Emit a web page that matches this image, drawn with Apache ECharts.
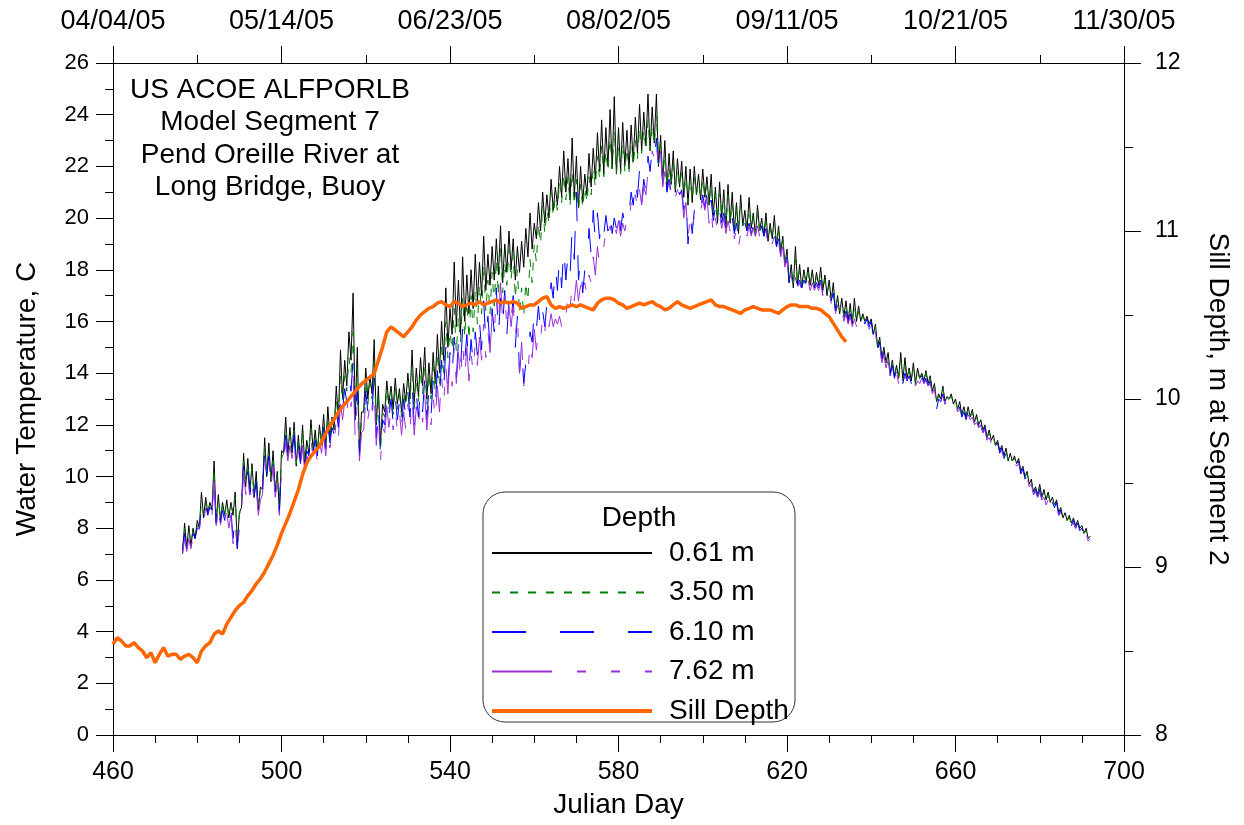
<!DOCTYPE html>
<html>
<head>
<meta charset="utf-8">
<script src="https://cdn.jsdelivr.net/npm/echarts@6/dist/echarts.min.js"></script>
<style>
  html, body { margin: 0; padding: 0; background: #fff; }
  #chart { width: 1244px; height: 825px; }
</style>
</head>
<body>
<div id="chart"></div>
<script>
// 轴刻度
const majorDays = [460, 500, 540, 580, 620, 660, 700];
const minorDays = [470, 480, 490, 510, 520, 530, 550, 560, 570, 590, 600, 610, 630, 640, 650, 670, 680, 690];
const topMinorDays = [480, 520, 560, 600, 640, 680];
const dateLabels = ['04/04/05', '05/14/05', '06/23/05', '08/02/05', '09/11/05', '10/21/05', '11/30/05'];

// 水温 (每天: 低, 高), 从 476.5 天开始, 半天一个点
const tempStart = 476.5;
const tempStep = 0.5;

const t061 = [
    7.0,8.2, 7.2,8.1, 7.3,8.0, 7.6,8.3, 8.0,9.4, 8.4,9.2, 8.6,9.0, 8.7,10.6, 8.2,9.3, 8.3,9.0,
    8.5,9.1, 8.4,9.0, 8.5,9.4, 7.3,8.6, 8.8,10.9, 9.6,10.7, 9.4,10.5, 9.2,10.2, 8.7,9.6, 9.5,11.5,
    10.0,11.3, 9.8,11.0, 9.4,10.2, 8.6,11.0, 10.9,12.3, 10.8,11.9, 10.9,12.1, 10.4,11.6, 10.6,12.0, 10.5,11.4,
    10.9,12.2, 11.0,11.8, 10.9,12.0, 11.3,12.4, 11.1,12.7, 11.5,12.3, 11.8,13.5, 12.2,14.9, 13.0,14.5, 13.5,15.6,
    14.5,17.1, 12.3,15.0, 10.9,12.5, 12.5,14.2, 13.0,13.9, 13.2,15.3, 12.0,13.5, 11.2,12.8, 12.5,13.7, 12.8,13.5,
    12.6,13.8, 12.8,13.4, 12.5,13.6, 12.9,14.0, 13.0,14.9, 12.8,14.2, 13.1,14.6, 13.5,15.0, 13.0,14.4, 13.2,14.8,
    13.6,15.5, 14.0,16.0, 14.5,17.3, 15.0,16.5, 15.5,18.3, 15.8,17.6, 15.5,18.5, 16.0,17.8, 16.3,18.0, 16.5,18.6,
    16.8,18.3, 17.0,19.3, 17.2,18.6, 17.4,18.9, 17.6,19.2, 17.8,19.7, 17.5,19.0, 17.9,19.5, 18.0,19.2, 17.6,18.9,
    17.9,19.1, 18.1,19.6, 18.5,20.2, 18.8,19.8, 19.2,20.6, 19.5,21.0, 19.8,20.9, 20.0,21.5, 20.3,21.2, 20.5,22.0,
    20.8,22.6, 21.0,22.3, 20.7,23.1, 20.8,22.4, 20.4,22.0, 20.6,21.7, 20.9,22.5, 21.2,22.7, 21.5,23.3, 21.8,23.8,
    21.7,23.5, 22.0,24.2, 21.9,24.7, 21.7,23.5, 21.8,23.7, 22.0,23.4, 21.9,23.6, 22.2,23.9, 22.5,24.4, 22.6,24.1,
    22.8,24.8, 22.6,24.3, 22.9,24.8, 22.0,23.2, 21.4,23.0, 21.1,22.5, 21.3,22.6, 21.0,22.3, 21.2,22.2, 20.8,22.0,
    20.5,21.9, 20.6,22.0, 20.9,21.7, 20.7,21.9, 20.8,21.6, 20.5,21.7, 20.1,21.2, 19.8,21.4, 20.0,21.1, 19.6,21.3,
    19.8,21.0, 19.5,20.6, 19.4,20.9, 19.7,20.3, 19.5,20.8, 19.6,20.2, 19.3,20.5, 19.5,20.0, 19.3,20.2, 19.1,19.8,
    19.2,20.1, 18.9,19.7, 18.7,19.3, 18.2,18.8, 17.5,18.2, 17.3,18.9, 17.4,18.2, 17.3,18.0, 17.5,18.1, 17.4,18.0,
    17.3,17.9, 17.4,18.1, 17.2,17.8, 17.0,17.6, 16.8,17.5, 16.4,17.0, 16.3,16.9, 16.2,16.8, 16.0,16.7, 15.9,16.9,
    16.0,16.6, 16.0,16.3, 16.0,16.2, 15.9,16.1, 15.5,15.9, 15.0,15.4, 14.6,15.0, 14.4,14.8, 14.0,14.5, 13.9,14.3,
    13.8,14.8, 13.7,14.6, 13.8,14.2, 13.7,14.4, 13.6,14.2, 13.8,14.0, 13.7,14.1, 13.6,13.9, 13.3,13.6, 12.9,13.2,
    13.0,13.5, 12.9,13.1, 13.0,13.2, 12.8,13.0, 12.6,12.9, 12.4,12.7, 12.3,12.7, 12.3,12.6, 12.1,12.4, 12.0,12.2,
    11.8,12.0, 11.5,11.8, 11.4,11.6, 11.2,11.4, 11.0,11.2, 10.8,11.1, 10.6,10.9, 10.6,10.8, 10.5,10.7, 10.2,10.4,
    10.0,10.2, 9.7,9.9, 9.4,9.6, 9.3,9.7, 9.2,9.5, 9.1,9.4, 9.0,9.2, 8.9,9.1, 8.6,8.8, 8.4,8.6,
    8.3,8.5, 8.2,8.4, 8.1,8.3, 8.0,8.1, 7.8,8.0, 7.6,7.7
];

const t350 = [
    7.2,8.0, 7.3,7.9, 7.4,7.9, 7.7,8.1, 8.1,9.0, 8.5,9.0, 8.6,8.9, 8.8,10.3, 8.3,9.1, 8.4,8.9,
    8.5,9.0, 8.5,8.9, 8.6,9.2, 7.5,8.5, 8.9,10.6, 9.7,10.5, 9.5,10.3, 9.3,10.0, 8.8,9.5, 9.6,11.2,
    10.1,11.0, 9.9,10.8, 9.5,10.1, 8.8,10.7, 10.9,11.9, 10.9,11.6, 11.0,11.8, 10.5,11.4, 10.7,11.7, 10.6,11.2,
    11.0,11.9, 11.1,11.6, 11.0,11.8, 11.3,12.1, 11.2,12.3, 11.5,12.1, 11.8,13.0, 12.2,13.9, 12.9,13.9, 13.3,14.6,
    14.0,15.6, 12.2,14.2, 10.9,12.2, 12.3,13.7, 12.8,13.6, 13.0,14.4, 11.9,13.2, 11.0,12.5, 12.3,13.4, 12.6,13.3,
    12.4,13.5, 12.6,13.2, 12.3,13.3, 12.7,13.7, 12.8,14.3, 12.6,13.8, 12.9,14.1, 13.2,14.4, 12.8,14.0, 13.0,14.3,
    13.3,14.8, 13.6,15.2, 14.0,16.0, 14.6,15.6, 14.9,16.5, 14.8,16.2, 15.2,16.9, 15.4,16.8, 15.3,17.0, 15.6,17.2,
    15.9,17.4, 16.3,18.2, 16.4,17.6, 16.3,17.9, 16.6,18.4, 17.0,18.9, 17.1,18.3, 17.4,18.8, 17.6,18.6, 16.9,18.0,
    16.3,17.3, 16.2,17.5, 16.8,18.4, 17.5,19.0, 18.3,19.8, 19.0,20.5, 19.4,20.3, 19.8,21.0, 20.1,20.8, 20.3,21.4,
    20.6,21.7, 20.7,21.6, 20.5,21.8, 20.5,21.5, 20.3,21.3, 20.4,21.2, 20.6,21.6, 20.9,21.9, 21.2,22.4, 21.5,22.8,
    21.6,22.6, 21.8,23.1, 21.9,23.4, 21.7,22.8, 21.7,22.9, 21.8,22.7, 21.8,22.8, 22.0,23.0, 22.3,23.5, 22.5,23.4,
    22.6,23.8, 22.6,23.6, 22.8,24.0, 22.1,22.9, 21.5,22.5, 21.2,22.0, 21.3,22.1, 21.1,21.9, 21.2,21.8, 20.9,21.6,
    20.6,21.5, 20.7,21.6, 20.9,21.4, 20.8,21.5, 20.8,21.3, 20.5,21.3, 20.2,20.9, 19.9,21.0, 20.0,20.8, 19.7,20.9,
    19.8,20.6, 19.6,20.3, 19.5,20.5, 19.7,20.1, 19.6,20.4, 19.6,20.0, 19.4,20.2, 19.5,19.9, 19.4,19.9, 19.2,19.6,
    19.2,19.8, 19.0,19.5, 18.8,19.2, 18.3,18.7, 17.6,18.0, 17.4,18.4, 17.5,18.0, 17.4,17.9, 17.5,17.9, 17.4,17.8,
    17.4,17.7, 17.4,17.9, 17.2,17.6, 17.1,17.4, 16.9,17.3, 16.5,16.9, 16.4,16.7, 16.2,16.6, 16.1,16.5, 16.0,16.6,
    16.0,16.4, 16.0,16.2, 16.0,16.1, 15.9,16.0, 15.5,15.8, 15.0,15.3, 14.6,14.9, 14.4,14.7, 14.0,14.4, 13.9,14.2,
    13.8,14.5, 13.7,14.3, 13.8,14.1, 13.7,14.2, 13.6,14.0, 13.8,13.9, 13.7,14.0, 13.6,13.8, 13.3,13.5, 12.9,13.1,
    13.0,13.4, 12.9,13.0, 13.0,13.1, 12.8,12.9, 12.6,12.8, 12.4,12.6, 12.3,12.6, 12.3,12.5, 12.1,12.3, 12.0,12.1,
    11.8,11.9, 11.5,11.7, 11.4,11.5, 11.2,11.3, 11.0,11.1, 10.8,11.0, 10.6,10.8, 10.6,10.7, 10.5,10.6, 10.2,10.3,
    10.0,10.1, 9.7,9.8, 9.4,9.5, 9.3,9.6, 9.2,9.4, 9.1,9.3, 9.0,9.1, 8.9,9.0, 8.6,8.7, 8.4,8.5,
    8.3,8.4, 8.2,8.3, 8.1,8.2, 8.0,8.1, 7.8,7.9, 7.6,7.7
];

const t610 = [
    7.1,7.8, 7.2,7.7, 7.3,7.8, 7.6,8.0, 8.0,8.8, 8.4,8.9, 8.5,8.8, 8.7,10.0, 8.1,8.9, 8.2,8.7,
    8.3,8.8, 8.3,8.7, 7.6,8.5, 7.2,8.3, 8.8,10.4, 9.5,10.2, 9.3,10.0, 9.2,9.8, 8.6,9.3, 9.5,11.0,
    10.0,10.8, 9.8,10.6, 9.4,9.9, 8.6,10.5, 10.8,11.6, 10.8,11.4, 10.9,11.6, 10.4,11.2, 10.5,11.5, 10.4,11.0,
    10.8,11.6, 10.9,11.4, 10.8,11.6, 11.1,11.9, 11.0,12.0, 11.3,11.9, 11.6,12.6, 11.9,13.3, 12.6,13.4, 12.9,13.9,
    13.3,14.6, 11.9,13.5, 10.8,12.0, 12.1,13.3, 12.5,13.2, 12.6,13.8, 11.5,12.8, 10.8,12.2, 12.0,13.1, 12.3,13.0,
    12.1,13.1, 12.2,12.9, 11.9,13.0, 12.3,13.3, 12.3,13.6, 12.0,13.2, 12.3,13.4, 12.5,13.8, 12.2,13.4, 12.4,13.7,
    12.7,14.1, 13.0,14.5, 13.3,15.0, 13.6,14.8, 13.9,15.4, 13.8,15.2, 14.2,15.7, 14.5,15.5, 14.1,15.3, 14.4,15.6,
    14.7,16.0, 14.9,16.8, 15.2,16.2, 15.0,16.5, 15.6,17.3, 15.4,16.9, 15.8,17.2, 15.5,16.8, 15.9,17.0, 15.0,16.2,
    14.0,15.0, 13.6,14.4, 14.3,15.6, 15.2,16.4, 15.7,16.6, 15.6,16.4, 15.8,16.7, 16.4,17.5, 16.9,18.2, 17.2,18.5,
    17.3,18.9, 17.6,18.6, 17.8,19.6, 18.4,21.0, 17.6,18.4, 17.1,18.0, 18.0,19.6, 18.6,20.3, 19.1,20.2, 19.2,19.9,
    19.3,20.1, 19.5,20.3, 19.4,20.0, 19.6,20.4, 19.5,20.2, 19.8,20.4, 20.2,21.0, 20.5,21.6, 20.8,21.9, 20.6,21.5,
    21.0,22.4, 21.8,22.7, 22.3,23.1, 21.9,22.7, 21.3,22.1, 21.0,21.5, 21.0,21.3, 20.9,21.2, 20.9,21.1, 20.3,20.9,
    19.0,20.2, 19.4,20.3, 20.0,20.6, 20.4,20.9, 20.4,21.0, 20.2,20.7, 19.9,20.4, 19.8,20.3, 19.8,20.2, 19.6,20.1,
    19.7,20.0, 19.4,19.8, 19.2,19.6, 19.4,19.8, 19.5,19.8, 19.4,19.7, 19.4,19.8, 19.4,19.7, 19.3,19.6, 19.1,19.5,
    19.1,19.4, 18.9,19.2, 18.6,19.0, 18.2,18.5, 17.5,17.9, 17.3,17.7, 17.4,17.6, 17.3,17.6, 17.4,17.7, 17.3,17.6,
    17.3,17.5, 17.3,17.6, 17.1,17.4, 17.0,17.2, 16.8,17.1, 16.4,16.7, 16.3,16.6, 16.1,16.4, 16.0,16.3, 15.9,16.2,
    15.9,16.1, 16.0,16.1, 15.9,16.1, 15.8,16.0, 15.4,15.7, 14.9,15.2, 14.5,14.8, 14.3,14.6, 13.9,14.3, 13.8,14.1,
    13.7,14.1, 13.6,14.0, 13.7,13.9, 13.6,13.9, 13.5,13.8, 13.7,13.9, 13.6,13.8, 13.5,13.7, 13.2,13.4, 12.6,13.0,
    12.9,13.2, 12.8,12.9, 12.9,13.0, 12.7,12.9, 12.5,12.7, 12.3,12.5, 12.2,12.5, 12.2,12.4, 12.0,12.2, 11.9,12.0,
    11.7,11.9, 11.4,11.6, 11.3,11.5, 11.1,11.3, 10.9,11.1, 10.7,10.9, 10.5,10.7, 10.5,10.6, 10.4,10.6, 10.1,10.3,
    9.9,10.1, 9.6,9.8, 9.3,9.5, 9.2,9.5, 9.1,9.3, 8.9,9.2, 8.9,9.0, 8.8,9.0, 8.5,8.7, 8.3,8.5,
    8.2,8.4, 8.1,8.3, 8.0,8.2, 7.9,8.0, 7.7,7.9, 7.5,7.6
];

const t762 = [
    7.0,7.6, 7.1,7.6, 7.2,7.7, 7.5,7.9, 7.9,8.6, 8.2,8.8, 8.4,8.7, 8.5,9.8, 8.0,8.8, 8.1,8.6,
    8.2,8.6, 8.0,8.5, 7.4,8.2, 7.1,8.0, 8.6,10.2, 9.3,10.0, 9.2,9.8, 9.0,9.6, 8.5,9.1, 9.3,10.7,
    9.9,10.6, 9.6,10.4, 9.2,9.7, 8.5,10.2, 10.6,11.3, 10.6,11.2, 10.7,11.4, 10.2,11.0, 10.3,11.2, 10.2,10.8,
    10.6,11.4, 10.7,11.2, 10.6,11.4, 10.9,11.6, 10.8,11.7, 11.1,11.6, 11.3,12.2, 11.5,12.8, 12.2,12.9, 12.4,13.4,
    12.7,13.9, 11.5,12.9, 10.6,11.7, 11.8,12.9, 12.2,12.8, 12.3,13.3, 11.2,12.4, 10.6,11.9, 11.7,12.7, 11.9,12.6,
    11.8,12.6, 11.8,12.5, 11.6,12.5, 11.8,12.8, 11.8,13.0, 11.6,12.7, 11.9,12.9, 12.1,13.2, 11.8,12.9, 12.0,13.1,
    12.2,13.5, 12.5,13.9, 12.8,14.3, 13.2,14.6, 13.5,15.0, 13.6,14.8, 13.7,15.2, 13.9,15.0, 13.7,14.8, 14.0,15.2,
    14.3,15.4, 14.5,15.9, 14.6,15.6, 14.8,16.2, 15.5,17.0, 15.9,17.5, 16.0,17.2, 15.7,16.6, 15.8,16.6, 15.4,16.3,
    14.0,15.2, 13.5,14.2, 14.0,15.2, 14.6,15.7, 14.9,15.6, 15.3,16.2, 15.6,16.4, 15.8,16.3, 15.8,16.1, 15.9,16.2,
    15.8,16.4, 16.2,17.0, 16.5,17.4, 16.8,17.6, 16.8,17.4, 16.9,17.5, 17.0,17.8, 17.5,18.5, 17.8,18.9, 18.2,18.8,
    18.9,19.5, 19.2,19.7, 19.3,19.8, 19.4,19.9, 19.3,19.8, 19.5,20.0, 19.8,20.6, 20.2,20.9, 20.4,21.1, 20.5,21.2,
    20.9,21.8, 21.8,22.6, 22.3,22.9, 21.9,22.6, 21.2,21.8, 21.0,21.4, 20.9,21.2, 20.8,21.1, 20.5,21.0, 20.0,20.6,
    19.2,20.0, 19.5,20.1, 20.0,20.5, 20.3,20.7, 20.3,20.8, 19.8,20.4, 19.3,20.0, 19.5,20.1, 19.6,20.0, 19.4,19.9,
    19.5,19.9, 19.2,19.6, 18.9,19.4, 19.2,19.6, 19.3,19.7, 19.3,19.6, 19.3,19.7, 19.3,19.6, 19.2,19.5, 19.0,19.4,
    19.0,19.3, 18.8,19.1, 18.5,18.9, 18.1,18.4, 17.4,17.8, 17.2,17.5, 17.3,17.5, 17.2,17.5, 17.3,17.6, 17.2,17.5,
    17.2,17.4, 17.2,17.5, 17.0,17.3, 16.9,17.1, 16.7,17.0, 16.3,16.6, 16.2,16.5, 16.0,16.3, 15.9,16.2, 15.8,16.1,
    15.8,16.0, 15.9,16.0, 15.8,16.0, 15.7,15.9, 15.3,15.6, 14.8,15.1, 14.4,14.7, 14.2,14.5, 13.9,14.2, 13.8,14.0,
    13.6,14.0, 13.6,13.9, 13.7,13.9, 13.6,13.8, 13.5,13.7, 13.6,13.8, 13.6,13.7, 13.5,13.6, 13.2,13.4, 12.7,13.0,
    12.9,13.1, 12.8,12.9, 12.9,13.0, 12.7,12.8, 12.5,12.6, 12.3,12.5, 12.2,12.4, 12.2,12.3, 12.0,12.1, 11.9,12.0,
    11.7,11.8, 11.4,11.5, 11.3,11.4, 11.1,11.2, 10.9,11.0, 10.7,10.8, 10.5,10.6, 10.5,10.6, 10.4,10.5, 10.1,10.2,
    9.9,10.0, 9.6,9.7, 9.3,9.4, 9.2,9.4, 9.1,9.2, 8.9,9.1, 8.9,9.0, 8.8,8.9, 8.5,8.6, 8.3,8.4,
    8.2,8.3, 8.1,8.2, 8.0,8.1, 7.9,8.0, 7.7,7.8, 7.5,7.6
];

// 堰顶深度 (右轴), 从 460 天开始, 每天一个点
const sillStart = 460;
const sillDepth = [
    8.54, 8.58, 8.56, 8.53, 8.53, 8.55, 8.52, 8.50, 8.46, 8.49,
    8.43, 8.48, 8.52, 8.47, 8.48, 8.48, 8.45, 8.47, 8.48, 8.46,
    8.43, 8.50, 8.53, 8.55, 8.60, 8.62, 8.60, 8.66, 8.70, 8.74,
    8.77, 8.79, 8.83, 8.86, 8.90, 8.93, 8.97, 9.02, 9.07, 9.13,
    9.20, 9.26, 9.32, 9.39, 9.46, 9.55, 9.62, 9.66, 9.69, 9.72,
    9.77, 9.82, 9.86, 9.90, 9.94, 9.97, 10.00, 10.03, 10.06, 10.09,
    10.11, 10.13, 10.15, 10.23, 10.31, 10.40, 10.43, 10.41, 10.39, 10.37,
    10.40, 10.43, 10.47, 10.50, 10.52, 10.54, 10.55, 10.57, 10.58, 10.56,
    10.55, 10.58, 10.57, 10.55, 10.56, 10.57, 10.56, 10.58, 10.56, 10.57,
    10.58, 10.59, 10.57, 10.58, 10.57, 10.58, 10.57, 10.54, 10.55, 10.56,
    10.56, 10.58, 10.60, 10.61, 10.56, 10.54, 10.55, 10.54, 10.55, 10.56,
    10.55, 10.56, 10.55, 10.54, 10.53, 10.57, 10.59, 10.60, 10.60, 10.59,
    10.57, 10.56, 10.54, 10.55, 10.56, 10.57, 10.56, 10.57, 10.58, 10.56,
    10.55, 10.53, 10.54, 10.56, 10.58, 10.56, 10.55, 10.54, 10.55, 10.56,
    10.57, 10.58, 10.59, 10.56, 10.55, 10.55, 10.54, 10.53, 10.52, 10.51,
    10.53, 10.54, 10.55, 10.54, 10.53, 10.53, 10.53, 10.52, 10.51, 10.53,
    10.55, 10.56, 10.56, 10.55, 10.55, 10.55, 10.54, 10.54, 10.53, 10.51,
    10.49, 10.45, 10.41, 10.37, 10.34
];

const FONT = 'Liberation Sans, Arial, sans-serif';

// 把数组转成 [天, 值]
function toPoints(start, step, values) {
    return values.map(function (v, i) {
        return [start + i * step, v];
    });
}

function renderChart() {
    const chart = echarts.init(document.getElementById('chart'));

    const axisLineStyle = { color: '#000', width: 1 };
    const textStyle = (size) => ({ color: '#000', fontSize: size, fontFamily: FONT });

    function tempSeries(name, values, color, dash) {
        return {
            name: name,
            type: 'line',
            xAxisIndex: 0,
            yAxisIndex: 0,
            data: toPoints(tempStart, tempStep, values),
            symbol: 'none',
            showSymbol: false,
            lineStyle: { color: color, width: 1, type: dash },
            itemStyle: { color: color }
        };
    }

    const option = {
        animation: false,
        backgroundColor: '#fff',
        grid: {
            left: 113,
            right: 120,
            top: 63,
            bottom: 90,
            containLabel: false
        },
        legend: {
            orient: 'vertical',
            left: 490,
            top: 538,
            z: 10,
            padding: 0,
            itemWidth: 160,
            itemHeight: 14,
            itemGap: 9.5,
            selectedMode: false,
            itemStyle: { opacity: 0 },
            textStyle: {
                color: '#000',
                fontSize: 28,
                fontFamily: FONT,
                lineHeight: 30,
                padding: [0, 0, 0, 12]
            },
            data: [
                { name: '0.61 m' },
                { name: '3.50 m' },
                { name: '6.10 m' },
                { name: '7.62 m' },
                { name: 'Sill Depth', lineStyle: { width: 4 } }
            ]
        },
        graphic: [
            {
                type: 'rect',
                z: 5,
                shape: { x: 483, y: 492, width: 312, height: 230, r: 22 },
                style: { fill: '#fff', stroke: '#333', lineWidth: 1 }
            },
            {
                type: 'text',
                z: 6,
                x: 639,
                y: 518,
                style: {
                    text: 'Depth',
                    fill: '#000',
                    font: '28px ' + FONT,
                    textAlign: 'center',
                    textVerticalAlign: 'middle'
                }
            },
            {
                type: 'text',
                z: 6,
                x: 270,
                y: 74,
                style: {
                    text: 'US ACOE ALFPORLB\nModel Segment 7\nPend Oreille River at\nLong Bridge, Buoy',
                    fill: '#000',
                    font: '28px ' + FONT,
                    lineHeight: 32.5,
                    textAlign: 'center'
                }
            }
        ],
        xAxis: [
            {
                type: 'value',
                position: 'bottom',
                min: 460,
                max: 700,
                name: 'Julian Day',
                nameLocation: 'middle',
                nameGap: 56,
                nameTextStyle: textStyle(28),
                axisLine: { show: true, lineStyle: axisLineStyle },
                axisTick: { show: true, customValues: majorDays, length: 17, lineStyle: axisLineStyle },
                axisLabel: Object.assign({ customValues: majorDays, margin: 25 }, textStyle(25)),
                splitLine: { show: false }
            },
            {
                type: 'value',
                position: 'bottom',
                min: 460,
                max: 700,
                axisLine: { show: false },
                axisTick: { show: true, customValues: minorDays, length: 8, lineStyle: axisLineStyle },
                axisLabel: { show: false },
                splitLine: { show: false }
            },
            {
                type: 'value',
                position: 'top',
                min: 460,
                max: 700,
                axisLine: { show: true, lineStyle: axisLineStyle },
                axisTick: { show: true, customValues: majorDays, length: 17, lineStyle: axisLineStyle },
                axisLabel: Object.assign({
                    customValues: majorDays,
                    margin: 28,
                    formatter: function (v) {
                        return dateLabels[majorDays.indexOf(v)];
                    }
                }, textStyle(27)),
                splitLine: { show: false }
            },
            {
                type: 'value',
                position: 'top',
                min: 460,
                max: 700,
                axisLine: { show: false },
                axisTick: { show: true, customValues: topMinorDays, length: 8, lineStyle: axisLineStyle },
                axisLabel: { show: false },
                splitLine: { show: false }
            }
        ],
        yAxis: [
            {
                type: 'value',
                position: 'left',
                min: 0,
                max: 26,
                interval: 2,
                name: 'Water Temperature, C',
                nameLocation: 'middle',
                nameGap: 72,
                nameTextStyle: textStyle(28),
                axisLine: { show: true, lineStyle: axisLineStyle },
                axisTick: { show: true, length: 17, lineStyle: axisLineStyle },
                minorTick: { show: true, splitNumber: 2, length: 8, lineStyle: axisLineStyle },
                axisLabel: Object.assign({ margin: 24 }, textStyle(22)),
                splitLine: { show: false }
            },
            {
                type: 'value',
                position: 'right',
                min: 8,
                max: 12,
                interval: 1,
                name: 'Sill Depth, m at Segment 2',
                nameLocation: 'middle',
                nameRotate: -90,
                nameGap: 80,
                nameTextStyle: textStyle(28),
                axisLine: { show: true, lineStyle: axisLineStyle },
                axisTick: { show: true, length: 17, lineStyle: axisLineStyle },
                minorTick: { show: true, splitNumber: 2, length: 9, lineStyle: axisLineStyle },
                axisLabel: Object.assign({ margin: 31 }, textStyle(23)),
                splitLine: { show: false }
            }
        ],
        series: [
            tempSeries('0.61 m', t061, '#000000', 'solid'),
            tempSeries('3.50 m', t350, '#008000', [8, 10]),
            tempSeries('6.10 m', t610, '#0000ff', [34, 34]),
            tempSeries('7.62 m', t762, '#9a30d8', [60, 25, 9, 25, 9, 25]),
            {
                name: 'Sill Depth',
                type: 'line',
                xAxisIndex: 0,
                yAxisIndex: 1,
                data: toPoints(sillStart, 1, sillDepth),
                symbol: 'none',
                showSymbol: false,
                lineStyle: { color: '#ff6600', width: 3.5 },
                itemStyle: { color: '#ff6600' }
            }
        ]
    };

    chart.setOption(option);

    window.addEventListener('resize', () => {
        chart.resize();
    });
}

renderChart();
</script>
</body>
</html>
